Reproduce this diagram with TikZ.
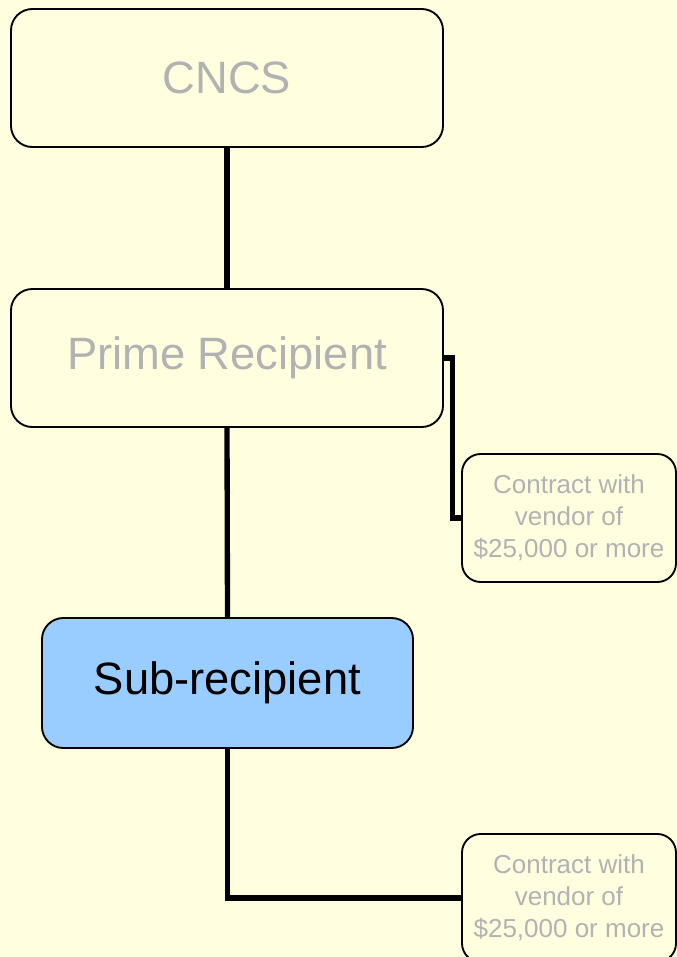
\documentclass[tikz,border=0pt]{standalone}
\usepackage{fontspec}
\setmainfont{Liberation Sans}
\usetikzlibrary{positioning,calc}
\definecolor{bgcolor}{RGB}{255,255,224}
\definecolor{txtgray}{RGB}{178,178,178}
\definecolor{subcolor}{RGB}{153,204,255}
\tikzset{
  orgbox/.style={draw=black, line width=1.4pt, rounded corners=16pt, fill=bgcolor,
    inner sep=0pt, align=center, text=txtgray, font=\fontsize{34}{39}\selectfont},
  vendorbox/.style={orgbox, rounded corners=14pt, minimum width=160.5pt, minimum height=96pt,
    font=\fontsize{19.5}{24}\selectfont},
  linkln/.style={line width=4pt, line join=miter},
}

\begin{document}
\begin{tikzpicture}[x=0.75pt, y=-0.75pt]
    \useasboundingbox (0,0) rectangle (677,957);
    \clip (0,0) rectangle (677,957);
    \fill[bgcolor] (0,0) rectangle (677,957);
    \node[orgbox, minimum width=324pt, minimum height=103.5pt] (cncs) at (227,78) {CNCS};
    \node[orgbox, minimum width=324pt, minimum height=103.5pt] (prime) at (227,358) {Prime Recipient};
    \node[orgbox, fill=subcolor, text=black, minimum width=278.25pt, minimum height=97.5pt]
      (sub) at (227.5,683) {Sub-recipient};
    \node[vendorbox] (vendA) at (569,518) {Contract with\\vendor of\\\$25,000 or more};
    \node[vendorbox] (vendB) at (569,898) {Contract with\\vendor of\\\$25,000 or more};
    % links
    \draw[linkln] (cncs.south) -- (prime.north);
    \draw[linkln] (prime.south) -- (sub.north);
    \draw[linkln] (prime.east) -| ($(prime.east)!0.5!(vendA.west)$) |- (vendA.west);
    \draw[linkln] (sub.south) |- (vendB.west);
  \end{tikzpicture}
\end{document}
